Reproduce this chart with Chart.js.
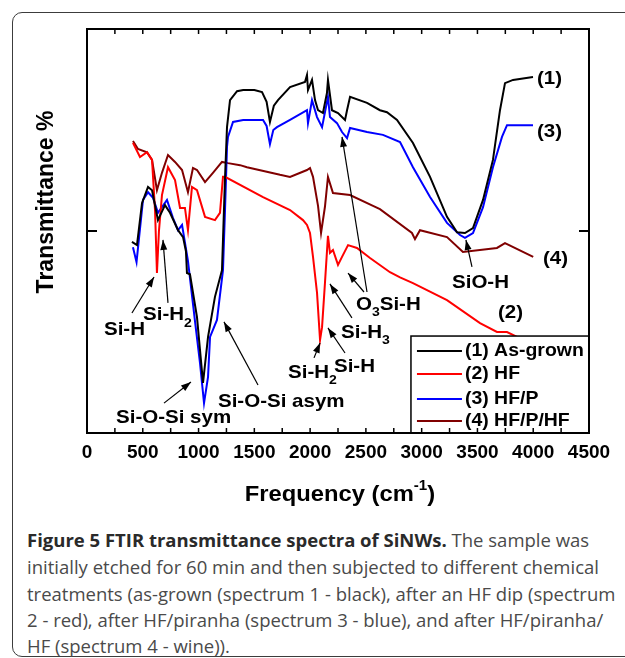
<!DOCTYPE html>
<html>
<head>
<meta charset="utf-8">
<script src="https://cdn.jsdelivr.net/npm/chart.js@4"></script>
<style>
  html, body { margin: 0; padding: 0; background: #fff; }
  body { width: 625px; height: 658px; position: relative; overflow: hidden; }
  #box { position: absolute; left: 12px; top: 12px; width: 660px; height: 643px;
         border: 1.5px solid #3c3c3c; border-radius: 10px; }
  #ftir { position: absolute; left: 0; top: 0; }
  .cap { position: absolute; left: 27px; font-family: "Open Sans", sans-serif; font-size: 18.5px;
         color: #4a4a4a; white-space: nowrap; line-height: 20px; }
  .cap b { color: #2a2a2a; }
</style>
</head>
<body>
<div id="box"></div>
<canvas id="ftir" width="625" height="520"></canvas>
<div class="cap" style="top:530px"><b>Figure 5 FTIR transmittance spectra of SiNWs.</b> The sample was</div>
<div class="cap" style="top:557px">initially etched for 60 min and then subjected to different chemical</div>
<div class="cap" style="top:584px">treatments (as-grown (spectrum 1 - black), after an HF dip (spectrum</div>
<div class="cap" style="top:610px">2 - red), after HF/piranha (spectrum 3 - blue), and after HF/piranha/</div>
<div class="cap" style="top:636px">HF (spectrum 4 - wine)).</div>
<script>
// spectra, wavenumber (cm-1) and transmittance (arb., 0-100)
const seriesNames = ["(1) As-grown", "(2) HF", "(3) HF/P", "(4) HF/P/HF"];
const seriesColors = ["#000000", "#ff0000", "#0000ff", "#800000"];

const asGrownWn = [403, 448, 493, 547, 583, 636, 699, 744, 816, 861, 887, 896, 923, 986, 1040, 1085, 1147, 1210, 1219, 1237, 1255, 1282, 1345, 1400, 1500, 1569, 1610, 1640, 1675, 1712, 1820, 1954, 1972, 1981, 2017, 2044, 2071, 2115, 2151, 2160, 2196, 2250, 2313, 2331, 2358, 2510, 2626, 2689, 2779, 2922, 3075, 3227, 3317, 3388, 3460, 3550, 3639, 3702, 3747, 3819, 3998];
const asGrownT = [47.3, 46.5, 56.9, 60.9, 60.1, 52.7, 56.4, 54.5, 50.2, 48.5, 45.0, 39.6, 39.3, 28.7, 12.4, 23.8, 33.7, 40.3, 47.8, 63.0, 75.7, 82.4, 84.6, 84.9, 84.9, 84.4, 82.0, 77.0, 81.0, 82.4, 85.6, 86.9, 88.6, 84.9, 87.4, 82.4, 79.9, 79.2, 84.2, 87.4, 79.9, 79.2, 77.5, 79.9, 83.2, 81.7, 79.9, 79.4, 77.5, 71.8, 63.4, 53.5, 49.7, 49.5, 50.7, 57.7, 67.6, 79.9, 86.6, 87.4, 88.1];

const hfWn = [412, 475, 538, 583, 610, 627, 645, 672, 726, 789, 834, 878, 905, 941, 986, 1058, 1147, 1192, 1219, 1237, 1578, 1820, 1936, 1972, 1999, 2026, 2062, 2089, 2107, 2133, 2160, 2178, 2205, 2250, 2286, 2340, 2420, 2537, 2716, 2806, 2922, 3227, 3523, 3675, 3765, 3855, 4000];
const hfT = [71.8, 68.3, 69.5, 67.6, 55.0, 39.6, 50.0, 58.9, 65.8, 62.6, 55.7, 55.7, 50.2, 60.9, 60.1, 53.5, 52.7, 54.5, 63.4, 63.4, 58.4, 55.2, 52.7, 51.5, 49.5, 43.6, 34.7, 23.0, 26.2, 37.1, 48.8, 44.6, 45.3, 41.6, 43.6, 46.5, 45.8, 43.3, 39.8, 38.5, 37.1, 32.9, 27.2, 25.0, 25.0, 23.8, 22.0];

const hfpWn = [412, 444, 502, 547, 592, 636, 717, 771, 816, 852, 905, 968, 1013, 1049, 1085, 1103, 1165, 1219, 1237, 1255, 1264, 1309, 1400, 1578, 1610, 1640, 1670, 1703, 1820, 1972, 1981, 2017, 2062, 2107, 2160, 2178, 2241, 2286, 2331, 2358, 2510, 2653, 2806, 2922, 3075, 3227, 3344, 3388, 3460, 3550, 3639, 3720, 3765, 3998];
const hfpT = [46.0, 42.3, 57.7, 59.6, 58.2, 54.5, 57.7, 53.2, 50.2, 51.5, 42.6, 27.7, 17.3, 7.4, 13.9, 23.8, 28.0, 40.3, 55.0, 70.8, 73.3, 77.0, 77.5, 77.5, 76.0, 71.5, 75.0, 75.7, 77.5, 79.9, 76.7, 82.4, 78.2, 75.7, 83.2, 78.2, 76.7, 74.5, 73.0, 75.5, 74.5, 73.8, 72.0, 65.8, 58.4, 52.0, 49.0, 48.3, 49.5, 55.9, 65.8, 73.3, 76.2, 76.2];

const hfphfWn = [412, 457, 538, 583, 627, 672, 726, 789, 852, 905, 950, 986, 1058, 1129, 1210, 1264, 1372, 1434, 1730, 1820, 1972, 1999, 2026, 2071, 2098, 2133, 2160, 2205, 2358, 2564, 2626, 2913, 2940, 2985, 3227, 3370, 3675, 3747, 4000];
const hfphfT = [72.3, 70.3, 69.5, 67.6, 60.1, 64.4, 68.8, 67.1, 65.1, 59.6, 65.6, 65.1, 62.1, 64.4, 67.1, 66.8, 66.3, 65.8, 63.9, 63.4, 65.1, 65.6, 63.4, 56.2, 49.5, 56.0, 63.4, 59.4, 58.9, 56.2, 55.4, 49.5, 48.0, 50.2, 48.5, 44.8, 45.8, 47.0, 43.6];

// peak labels: text ("_" marks a subscript digit), left edge wn, middle T
const noteText = ["Si-H", "Si-H_2", "Si-O-Si sym", "Si-O-Si asym", "Si-H_2", "Si-H", "Si-H_3", "O_3Si-H", "SiO-H", "(1)", "(3)", "(4)", "(2)"];
const noteWn = [152, 502, 260, 1174, 1802, 2214, 2277, 2411, 3272, 4034, 4034, 4088, 3684];
const noteT = [25.5, 29.2, 3.7, 7.7, 14.9, 16.3, 24.8, 31.7, 37.1, 87.6, 74.5, 43.1, 29.7];

// arrows: from (wn, T) to (wn, T)
const arrowFromWn = [403, 726, 690, 1533, 2035, 2313, 2375, 2483, 2510, 3451];
const arrowFromT = [29.7, 32.2, 7.4, 11.9, 18.6, 19.8, 28.5, 34.9, 34.9, 41.1];
const arrowToWn = [601, 681, 932, 1228, 2089, 2160, 2178, 2340, 2286, 3397];
const arrowToT = [38.6, 47.8, 12.6, 27.5, 22.3, 26.0, 36.9, 39.6, 73.3, 47.8];

const FONT = '"Liberation Sans", Arial, sans-serif';
const STRETCH = 1.08;

function pts(xs, ys) {
  return xs.map((x, i) => ({ x: x, y: ys[i] }));
}

function drawRich(ctx, str, x, y, size) {
  // plain text with "_d" subscripts, left aligned, middle baseline
  ctx.save();
  ctx.translate(x, y);
  ctx.scale(STRETCH, 1);
  ctx.textBaseline = "middle";
  ctx.textAlign = "left";
  let cx = 0;
  const parts = str.split(/(_\d)/).filter(p => p.length);
  parts.forEach(p => {
    if (p[0] === "_") {
      ctx.font = "bold " + Math.round(size * 0.68) + "px " + FONT;
      ctx.fillText(p[1], cx, size * 0.42);
      cx += ctx.measureText(p[1]).width;
    } else {
      ctx.font = "bold " + size + "px " + FONT;
      ctx.fillText(p, cx, 0);
      cx += ctx.measureText(p).width;
    }
  });
  ctx.restore();
}

function arrow(ctx, x1, y1, x2, y2) {
  ctx.beginPath();
  ctx.moveTo(x1, y1);
  ctx.lineTo(x2, y2);
  ctx.stroke();
  const ang = Math.atan2(y2 - y1, x2 - x1), L = 10, W = 3.5;
  ctx.beginPath();
  ctx.moveTo(x2, y2);
  ctx.lineTo(x2 - L * Math.cos(ang) + W * Math.sin(ang), y2 - L * Math.sin(ang) - W * Math.cos(ang));
  ctx.lineTo(x2 - L * Math.cos(ang) - W * Math.sin(ang), y2 - L * Math.sin(ang) + W * Math.cos(ang));
  ctx.closePath();
  ctx.fill();
}

const decorPlugin = {
  id: "decor",
  afterDatasetsDraw(chart) {
    const { ctx, chartArea: a, scales: { x, y } } = chart;
    ctx.save();
    ctx.fillStyle = "#000";
    ctx.strokeStyle = "#000";

    // peak labels and arrows
    noteText.forEach((t, i) => {
      drawRich(ctx, t, x.getPixelForValue(noteWn[i]), y.getPixelForValue(noteT[i]), 19);
    });
    ctx.lineWidth = 1.2;
    arrowFromWn.forEach((w, i) => {
      arrow(ctx, x.getPixelForValue(w), y.getPixelForValue(arrowFromT[i]),
        x.getPixelForValue(arrowToWn[i]), y.getPixelForValue(arrowToT[i]));
    });

    // legend box in the lower right corner
    const lx = x.getPixelForValue(2904), ly = y.getPixelForValue(24);
    ctx.fillStyle = "#fff";
    ctx.fillRect(lx, ly, a.right - lx, a.bottom - ly);
    ctx.lineWidth = 1.5;
    ctx.strokeRect(lx, ly, a.right - lx, a.bottom - ly);
    const rows = [15, 38, 63, 85];
    chart.data.datasets.forEach((ds, i) => {
      const ry = ly + rows[i];
      ctx.strokeStyle = ds.borderColor;
      ctx.lineWidth = 2;
      ctx.beginPath();
      ctx.moveTo(lx + 6, ry);
      ctx.lineTo(lx + 51, ry);
      ctx.stroke();
      ctx.fillStyle = "#000";
      drawRich(ctx, ds.label, lx + 54, ry, 18);
    });

    // frame with inward ticks
    ctx.strokeStyle = "#000";
    ctx.lineWidth = 2;
    ctx.strokeRect(a.left, a.top, a.right - a.left, a.bottom - a.top);
    ctx.lineWidth = 1.5;
    const tickVals = [];
    x.ticks.forEach(t => { tickVals.push(t.value); tickVals.push(t.value + 250); });
    tickVals.forEach(v => {
      if (v <= 0 || v >= 4500) return;
      const px = x.getPixelForValue(v);
      ctx.beginPath();
      ctx.moveTo(px, a.bottom); ctx.lineTo(px, a.bottom - 5);
      ctx.moveTo(px, a.top); ctx.lineTo(px, a.top + 5);
      ctx.stroke();
    });
    const mid = y.getPixelForValue(50);
    ctx.lineWidth = 2;
    ctx.beginPath();
    ctx.moveTo(a.left, mid); ctx.lineTo(a.left + 10, mid);
    ctx.moveTo(a.right, mid); ctx.lineTo(a.right - 10, mid);
    ctx.stroke();

    // axis titles
    ctx.fillStyle = "#000";
    ctx.textBaseline = "middle";
    ctx.save();
    ctx.translate(47, 202);
    ctx.rotate(-Math.PI / 2);
    ctx.textAlign = "center";
    ctx.font = "bold 23px " + FONT;
    ctx.fillText("Transmittance %", 0, 0);
    ctx.restore();

    ctx.save();
    ctx.font = "bold 22px " + FONT;
    const main = "Frequency (cm";
    const w1 = ctx.measureText(main).width;
    ctx.font = "bold 14px " + FONT;
    const w2 = ctx.measureText("-1").width;
    ctx.font = "bold 22px " + FONT;
    const w3 = ctx.measureText(")").width;
    const total = (w1 + w2 + w3) * STRETCH;
    ctx.translate(340 - total / 2, 495);
    ctx.scale(STRETCH, 1);
    ctx.textAlign = "left";
    ctx.fillText(main, 0, 0);
    ctx.font = "bold 14px " + FONT;
    ctx.fillText("-1", w1, -9);
    ctx.font = "bold 22px " + FONT;
    ctx.fillText(")", w1 + w2, 0);
    ctx.restore();

    ctx.restore();
  }
};

new Chart(document.getElementById("ftir"), {
  type: "line",
  data: {
    datasets: [
      { label: seriesNames[0], data: pts(asGrownWn, asGrownT), borderColor: seriesColors[0] },
      { label: seriesNames[1], data: pts(hfWn, hfT), borderColor: seriesColors[1] },
      { label: seriesNames[2], data: pts(hfpWn, hfpT), borderColor: seriesColors[2] },
      { label: seriesNames[3], data: pts(hfphfWn, hfphfT), borderColor: seriesColors[3] }
    ]
  },
  options: {
    responsive: false,
    animation: false,
    layout: { padding: { left: 87, right: 36, top: 29, bottom: 0 } },
    elements: {
      point: { radius: 0 },
      line: { borderWidth: 2, tension: 0, fill: false }
    },
    plugins: {
      legend: { display: false },
      tooltip: { enabled: false }
    },
    scales: {
      x: {
        type: "linear",
        min: 0,
        max: 4500,
        grid: { display: false, drawTicks: false },
        border: { display: false },
        ticks: {
          stepSize: 500,
          autoSkip: false,
          maxRotation: 0,
          padding: 8,
          color: "#000",
          font: { family: FONT, size: 19, weight: "bold" },
          callback: v => String(v)
        },
        afterFit: s => { s.height = 87; }
      },
      y: { min: 0, max: 100, display: false }
    }
  },
  plugins: [decorPlugin]
});
</script>
</body>
</html>
